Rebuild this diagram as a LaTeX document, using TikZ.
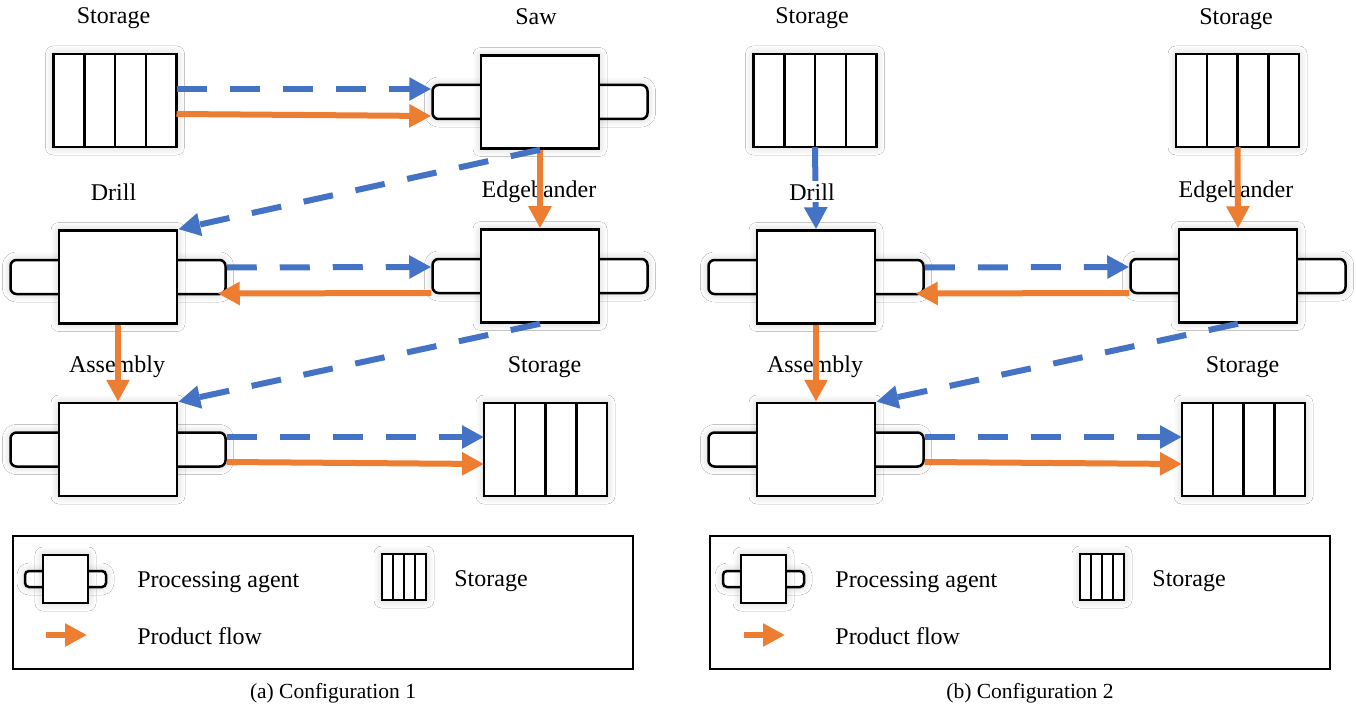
\documentclass[tikz,border=0pt]{standalone}
\usepackage{fontspec}
\setmainfont{Liberation Serif}
\newfontfamily\tnr{Liberation Serif}
\usetikzlibrary{arrows.meta,calc,shadows.blur}
\definecolor{flowblue}{HTML}{4472C4}
\definecolor{floworange}{HTML}{ED7D31}
\tikzset{
  boxline/.style={draw=black, line width=1.25pt},
  glow/.style={blur shadow={shadow xshift=0pt, shadow yshift=0pt, shadow blur radius=4pt, shadow blur steps=14, shadow opacity=20}},
  mainbox/.style={boxline, fill=white, minimum width=59pt, minimum height=46.5pt, inner sep=0pt, glow},
  tabbox/.style={boxline, fill=white, rounded corners=3pt, minimum width=107.5pt, minimum height=17pt, inner sep=0pt, glow},
  storebox/.style={boxline, fill=white, minimum width=61.5pt, minimum height=46.5pt, inner sep=0pt, outer sep=0pt, glow},
  minibox/.style={boxline, fill=white, minimum width=22.5pt, minimum height=24pt, inner sep=0pt, glow},
  minitab/.style={boxline, fill=white, rounded corners=2pt, minimum width=40.5pt, minimum height=8pt, inner sep=0pt, glow},
  ministore/.style={boxline, fill=white, minimum width=22pt, minimum height=23pt, inner sep=0pt, outer sep=0pt, glow},
  flowhead/.style={-{Triangle[length=11pt,width=11pt]}},
  bflow/.style={draw=flowblue, line width=3pt, dash pattern=on 15pt off 11.5pt, flowhead},
  bsolid/.style={draw=flowblue, line width=3pt, flowhead},
  oflow/.style={draw=floworange, line width=3pt, flowhead},
  lbl/.style={font=\tnr\fontsize{12}{14}\selectfont, anchor=base, inner sep=0pt},
  legtext/.style={font=\tnr\fontsize{12}{14}\selectfont, anchor=base west, inner sep=0pt},
  captext/.style={font=\tnr\fontsize{10.75}{13}\selectfont, anchor=base, inner sep=0pt},
  legframe/.style={draw=black, line width=1.25pt, minimum width=310pt, minimum height=66.5pt, inner sep=0pt},
}
\newcommand{\procagent}[3]{%
  \node[tabbox] (#1T) at (#2,#3) {};
  \node[mainbox] (#1) at (#2,#3) {};
}
\newcommand{\storeunit}[4]{%
  \node[#4] (#1) at (#2,#3) {};
  \foreach \f in {0.25,0.5,0.75}
    \draw[boxline] ($(#1.north west)!\f!(#1.north east)$) -- ($(#1.south west)!\f!(#1.south east)$);
}
\begin{document}
\begin{tikzpicture}[x=0.5pt, y=-0.5pt]
\useasboundingbox[fill=white] (0,0) rectangle (1356,706);

% ================= Panel (a) =================
\node[lbl] (la-st1) at (113.5,24) {Storage};
\node[lbl] (la-saw) at (536,25) {Saw};
\node[lbl] (la-drill) at (113.5,200) {Drill};
\node[lbl] (la-edge) at (539,198) {Edgebander};
\node[lbl] (la-asm) at (117,372) {Assembly};
\node[lbl] (la-st2) at (544.5,372) {Storage};

\storeunit{ast1}{115}{100.5}{storebox}
\procagent{asaw}{540}{102}
\procagent{adrill}{118}{277}
\procagent{aedge}{540}{276}
\procagent{aasm}{118}{449.5}
\storeunit{ast2}{545.5}{449.5}{storebox}

\draw[bflow] ($(ast1.east)+(0,-11.5)$) -- ($(asawT.west)+(0,-13)$);
\draw[oflow] ($(ast1.east)+(0,13.5)$) -- ($(asawT.west)+(0,14)$);
\draw[oflow] (asaw.south) -- (aedge.north);
\draw[bflow] (asaw.south) -- (adrill.north east);
\draw[bflow] ($(adrillT.east)+(0,-9.5)$) -- ($(aedgeT.west)+(0,-9)$);
\draw[oflow] ($(aedgeT.west)+(0,17)$) -- ($(adrillT.east)+(-9,16.5)$);
\draw[oflow] (adrill.south) -- (aasm.north);
\draw[bflow] (aedge.south) -- (aasm.north east);
\draw[bflow] ($(aasmT.east)+(0,-12.5)$) -- ($(ast2.west)+(0,-12.5)$);
\draw[oflow] ($(aasmT.east)+(0,12.5)$) -- ($(ast2.west)+(0,14.5)$);

% legend (a)
\node[legframe] (alegend) at (323,602.5) {};
\node[minitab] (alegagT) at (65.5,579) {};
\node[minibox] (alegag) at (65.5,579) {};
\node[legtext] (alegagtxt) at (137,587) {Processing agent};
\storeunit{alegst}{404}{577}{ministore}
\node[legtext] (alegsttxt) at (454,586) {Storage};
\coordinate (alegarA) at (46,635);
\coordinate (alegarB) at (87,635);
\draw[oflow] (alegarA) -- (alegarB);
\node[legtext] (alegartxt) at (137,644) {Product flow};
\node[captext] (acap) at (333,698) {(a) Configuration 1};

% ================= Panel (b) =================
\node[lbl] (lb-st1) at (812,24) {Storage};
\node[lbl] (lb-st2) at (1236,25) {Storage};
\node[lbl] (lb-edge) at (1236,198) {Edgebander};
\node[lbl] (lb-asm) at (815,372) {Assembly};
\node[lbl] (lb-st3) at (1242.5,372) {Storage};

\storeunit{bst1}{815}{100.5}{storebox}
\storeunit{bst2}{1237.5}{100.5}{storebox}
\procagent{bdrill}{816}{277}
\procagent{bedge}{1238}{276}
\procagent{basm}{816}{449.5}
\storeunit{bst3}{1243.5}{449.5}{storebox}

\draw[bsolid] (bst1.south) -- (bdrill.north);
\node[lbl, fill=white, inner xsep=1pt, inner ysep=1pt] (lb-drill) at (812,200) {Drill};
\draw[oflow] (bst2.south) -- (bedge.north);
\draw[bflow] ($(bdrillT.east)+(0,-9.5)$) -- ($(bedgeT.west)+(0,-9)$);
\draw[oflow] ($(bedgeT.west)+(0,17)$) -- ($(bdrillT.east)+(-9,16.5)$);
\draw[oflow] (bdrill.south) -- (basm.north);
\draw[bflow] (bedge.south) -- (basm.north east);
\draw[bflow] ($(basmT.east)+(0,-12.5)$) -- ($(bst3.west)+(0,-12.5)$);
\draw[oflow] ($(basmT.east)+(0,12.5)$) -- ($(bst3.west)+(0,14.5)$);

% legend (b)
\node[legframe] (blegend) at (1020,602.5) {};
\node[minitab] (blegagT) at (763.5,579) {};
\node[minibox] (blegag) at (763.5,579) {};
\node[legtext] (blegagtxt) at (835,587) {Processing agent};
\storeunit{blegst}{1102}{577}{ministore}
\node[legtext] (blegsttxt) at (1152,586) {Storage};
\coordinate (blegarA) at (744,635);
\coordinate (blegarB) at (785,635);
\draw[oflow] (blegarA) -- (blegarB);
\node[legtext] (blegartxt) at (835,644) {Product flow};
\node[captext] (bcap) at (1030,698) {(b) Configuration 2};
\end{tikzpicture}
\end{document}
